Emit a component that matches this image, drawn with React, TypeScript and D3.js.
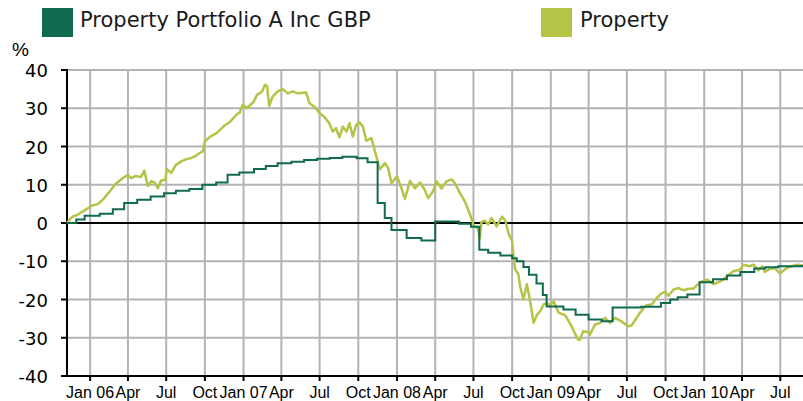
import React from "react";
import * as d3 from "d3";

const seriesNames = ["Property Portfolio A Inc GBP", "Property"];
const seriesColors = ["#0f6a4f", "#b5c346"];
const yTicks = [40, 30, 20, 10, 0, -10, -20, -30, -40];
const domainDates = ["2005-11-07", "2010-08-24"];

// Fund: monthly stepped returns (% cumulative)
const fundSeries: [string, number][] = [
  ["2005-11-07", 0], ["2005-11-29", 0.9], ["2005-12-19", 1.9], ["2006-01-24", 2.4],
  ["2006-02-24", 3.6], ["2006-03-23", 5.2], ["2006-04-23", 6.1], ["2006-05-25", 6.9],
  ["2006-06-26", 7.8], ["2006-07-24", 8.4], ["2006-08-25", 8.9], ["2006-09-25", 10.0],
  ["2006-10-28", 10.6], ["2006-11-24", 12.6], ["2006-12-22", 13.2], ["2007-01-26", 14.1],
  ["2007-02-23", 14.9], ["2007-03-23", 15.6], ["2007-04-25", 16.0], ["2007-05-25", 16.5],
  ["2007-06-25", 16.8], ["2007-07-25", 17.0], ["2007-08-24", 17.3], ["2007-09-27", 16.9],
  ["2007-10-23", 15.9], ["2007-11-16", 5.2], ["2007-12-03", 1.3], ["2007-12-19", -1.8],
  ["2008-01-24", -3.9], ["2008-02-28", -4.6], ["2008-04-01", 0.4], ["2008-05-28", -0.2],
  ["2008-06-25", -1.0], ["2008-07-15", -7.0], ["2008-08-05", -7.8], ["2008-09-03", -8.5],
  ["2008-10-01", -9.2], ["2008-10-12", -10.0], ["2008-10-28", -11.5], ["2008-11-10", -13.5],
  ["2008-11-28", -15.8], ["2008-12-13", -18.8], ["2008-12-22", -21.8], ["2009-01-31", -22.6],
  ["2009-03-01", -24.0], ["2009-04-01", -25.2], ["2009-05-02", -25.7], ["2009-05-28", -22.1],
  ["2009-08-04", -21.9], ["2009-09-20", -20.9], ["2009-10-12", -20.0], ["2009-10-30", -19.4],
  ["2009-11-22", -18.7], ["2009-12-21", -15.5], ["2010-01-22", -14.7], ["2010-02-24", -13.7],
  ["2010-03-28", -12.8], ["2010-04-30", -11.9], ["2010-05-26", -11.6], ["2010-06-26", -11.3],
  ["2010-08-24", -11.0],
];

// Property benchmark (% cumulative)
const propertySeries: [string, number][] = [
  ["2005-11-07", 0], ["2005-11-14", 1.0], ["2005-11-21", 1.7], ["2005-12-03", 2.2],
  ["2005-12-11", 2.8], ["2005-12-19", 3.3], ["2006-01-05", 4.5], ["2006-01-20", 5.0],
  ["2006-02-02", 6.3], ["2006-02-17", 8.3], ["2006-03-01", 10.0], ["2006-03-07", 10.6],
  ["2006-03-19", 11.7], ["2006-04-01", 12.6], ["2006-04-08", 11.7], ["2006-04-20", 12.3],
  ["2006-05-02", 12.0], ["2006-05-10", 13.7], ["2006-05-18", 9.7], ["2006-05-26", 10.9],
  ["2006-06-03", 10.6], ["2006-06-11", 9.1], ["2006-06-19", 11.1], ["2006-06-29", 11.3],
  ["2006-07-02", 14.1], ["2006-07-13", 13.1], ["2006-07-24", 15.2], ["2006-08-06", 16.1],
  ["2006-08-18", 16.7], ["2006-08-30", 17.0], ["2006-09-07", 17.4], ["2006-09-19", 18.3],
  ["2006-09-26", 18.7], ["2006-10-01", 21.3], ["2006-10-13", 22.5], ["2006-10-29", 23.5],
  ["2006-11-14", 25.2], ["2006-11-30", 26.5], ["2006-12-15", 28.3], ["2006-12-23", 28.9],
  ["2006-12-30", 30.9], ["2007-01-09", 30.0], ["2007-01-25", 31.7], ["2007-02-02", 33.5],
  ["2007-02-14", 34.4], ["2007-02-21", 36.1], ["2007-02-26", 35.8], ["2007-03-03", 30.6],
  ["2007-03-11", 33.0], ["2007-03-23", 34.4], ["2007-04-04", 35.0], ["2007-04-16", 33.9],
  ["2007-04-28", 34.4], ["2007-05-10", 33.9], ["2007-05-30", 34.1], ["2007-06-07", 31.3],
  ["2007-06-19", 30.4], ["2007-07-01", 28.7], ["2007-07-12", 27.8], ["2007-07-24", 26.1],
  ["2007-08-01", 23.9], ["2007-08-09", 24.8], ["2007-08-17", 22.4], ["2007-08-25", 25.2],
  ["2007-09-03", 23.9], ["2007-09-10", 26.1], ["2007-09-18", 22.6], ["2007-09-26", 25.7],
  ["2007-10-04", 26.3], ["2007-10-12", 25.2], ["2007-10-20", 21.5], ["2007-11-01", 22.2],
  ["2007-11-13", 17.4], ["2007-11-21", 14.0], ["2007-12-03", 15.7], ["2007-12-11", 14.4],
  ["2007-12-19", 10.4], ["2008-01-01", 12.2], ["2008-01-12", 9.0], ["2008-01-20", 6.3],
  ["2008-02-01", 11.0], ["2008-02-13", 9.1], ["2008-02-25", 10.6], ["2008-03-07", 8.7],
  ["2008-03-15", 6.5], ["2008-03-27", 8.3], ["2008-04-04", 10.9], ["2008-04-16", 9.0],
  ["2008-04-28", 10.9], ["2008-05-10", 11.4], ["2008-05-18", 10.4], ["2008-05-29", 8.0],
  ["2008-06-11", 5.5], ["2008-06-23", 2.2], ["2008-07-01", -0.4], ["2008-07-12", -1.7],
  ["2008-07-16", -4.0], ["2008-07-20", 0.2], ["2008-07-28", 0.6], ["2008-08-05", -0.4],
  ["2008-08-13", 1.3], ["2008-08-25", -0.9], ["2008-09-07", 1.7], ["2008-09-15", 0.6],
  ["2008-09-22", -2.6], ["2008-10-01", -4.8], ["2008-10-04", -8.7], ["2008-10-08", -12.0],
  ["2008-10-16", -13.5], ["2008-10-20", -16.6], ["2008-10-28", -20.0], ["2008-11-05", -16.0],
  ["2008-11-13", -20.5], ["2008-11-21", -26.1], ["2008-11-29", -24.0], ["2008-12-07", -23.0],
  ["2008-12-15", -21.3], ["2008-12-23", -20.9], ["2008-12-31", -21.5], ["2009-01-08", -20.5],
  ["2009-01-16", -22.6], ["2009-01-20", -23.5], ["2009-02-02", -24.0], ["2009-02-06", -24.4],
  ["2009-02-17", -26.5], ["2009-02-28", -29.0], ["2009-03-07", -30.5], ["2009-03-11", -30.5],
  ["2009-03-19", -28.3], ["2009-03-31", -28.5], ["2009-04-04", -29.2], ["2009-04-16", -26.6],
  ["2009-04-28", -26.1], ["2009-05-10", -24.8], ["2009-05-22", -26.1], ["2009-06-03", -24.8],
  ["2009-06-19", -25.8], ["2009-07-04", -27.0], ["2009-07-12", -26.8], ["2009-07-20", -25.5],
  ["2009-08-01", -23.5], ["2009-08-09", -22.4], ["2009-08-17", -21.5], ["2009-08-29", -21.3],
  ["2009-09-10", -19.6], ["2009-09-18", -18.7], ["2009-09-30", -17.9], ["2009-10-08", -19.0],
  ["2009-10-20", -17.4], ["2009-11-01", -17.0], ["2009-11-13", -17.6], ["2009-11-25", -17.2],
  ["2009-12-07", -17.1], ["2009-12-22", -15.5], ["2010-01-08", -14.8], ["2010-01-24", -16.0],
  ["2010-02-09", -15.2], ["2010-02-25", -13.9], ["2010-03-11", -12.6], ["2010-03-27", -12.2],
  ["2010-04-04", -10.9], ["2010-04-20", -11.3], ["2010-04-28", -10.9], ["2010-05-10", -12.4],
  ["2010-05-19", -11.3], ["2010-05-25", -12.8], ["2010-06-06", -12.0], ["2010-06-18", -11.8],
  ["2010-06-30", -13.2], ["2010-07-16", -11.8], ["2010-07-28", -11.3], ["2010-08-10", -10.9],
  ["2010-08-24", -11.1],
];

const W = 803;
const H = 401;
const M = { left: 67, right: 803, top: 70, bottom: 376 };

const parse = d3.utcParse("%Y-%m-%d");
const monthNames = ["Jan", "Feb", "Mar", "Apr", "May", "Jun", "Jul", "Aug", "Sep", "Oct", "Nov", "Dec"];

export default function App() {
  const x = d3
    .scaleUtc()
    .domain(domainDates.map((d) => parse(d) as Date))
    .range([M.left, M.right]);
  const y = d3.scaleLinear().domain([-40, 40]).range([M.bottom, M.top]);

  const quarterTicks = x.ticks(d3.utcMonth.every(3) as any);
  const fmt = (d: Date) => {
    const m = d.getUTCMonth();
    return m === 0 ? `Jan ${String(d.getUTCFullYear()).slice(2)}` : monthNames[m];
  };

  const fundLine = d3
    .line<[string, number]>()
    .x((d) => x(parse(d[0]) as Date))
    .y((d) => y(d[1]))
    .curve(d3.curveStepAfter);
  const propLine = d3
    .line<[string, number]>()
    .x((d) => x(parse(d[0]) as Date))
    .y((d) => y(d[1]))
    .curve(d3.curveLinear);

  const gridColor = "#b3b3b3";

  return (
    <svg
      width={W}
      height={H}
      style={{ position: "absolute", left: 0, top: 0, background: "#fff" }}
    >
      {/* legend */}
      <rect x={42} y={8} width={31} height={29} fill={seriesColors[0]} />
      <text x={80} y={27} fontFamily="DejaVu Sans" fontSize={21} fill="#1a1a1a">
        {seriesNames[0]}
      </text>
      <rect x={541} y={8} width={31} height={29} fill={seriesColors[1]} />
      <text x={580} y={27} fontFamily="DejaVu Sans" fontSize={21} fill="#1a1a1a">
        {seriesNames[1]}
      </text>

      <text x={12} y={56} fontFamily="Liberation Sans, Arial" fontSize={19} fill="#000">
        %
      </text>

      {/* grid */}
      {yTicks.map((t) => (
        <line key={"hy" + t} x1={M.left} x2={M.right} y1={y(t)} y2={y(t)} stroke={gridColor} strokeWidth={2} />
      ))}
      {quarterTicks.map((t) => (
        <line key={"vx" + t.getTime()} x1={x(t)} x2={x(t)} y1={M.top} y2={M.bottom} stroke={gridColor} strokeWidth={2} />
      ))}

      {/* zero line */}
      <line x1={M.left} x2={M.right} y1={y(0)} y2={y(0)} stroke="#000" strokeWidth={2} />
      {/* axes */}
      <line x1={M.left} x2={M.right} y1={M.bottom} y2={M.bottom} stroke="#000" strokeWidth={2} />
      <line x1={M.left} x2={M.left} y1={M.top - 1} y2={M.bottom + 1} stroke="#000" strokeWidth={2} />

      {yTicks.map((t) => (
        <g key={"yt" + t}>
          <line x1={M.left - 6} x2={M.left} y1={y(t)} y2={y(t)} stroke="#000" strokeWidth={2} />
          <text
            x={48}
            y={y(t) + 7}
            textAnchor="end"
            fontFamily="DejaVu Sans"
            fontSize={18}
            fill="#000"
          >
            {t}
          </text>
        </g>
      ))}
      {quarterTicks.map((t) => (
        <g key={"xt" + t.getTime()}>
          <line x1={x(t)} x2={x(t)} y1={M.bottom} y2={M.bottom + 5} stroke="#000" strokeWidth={2} />
          <text
            x={x(t)}
            y={398}
            textAnchor="middle"
            fontFamily="Liberation Sans, Arial"
            fontSize={16}
            fill="#000"
          >
            {fmt(t)}
          </text>
        </g>
      ))}

      {/* series */}
      <path d={propLine(propertySeries) || ""} fill="none" stroke={seriesColors[1]} strokeWidth={2.5} strokeLinejoin="round" />
      <path d={fundLine(fundSeries) || ""} fill="none" stroke={seriesColors[0]} strokeWidth={2} />
    </svg>
  );
}
